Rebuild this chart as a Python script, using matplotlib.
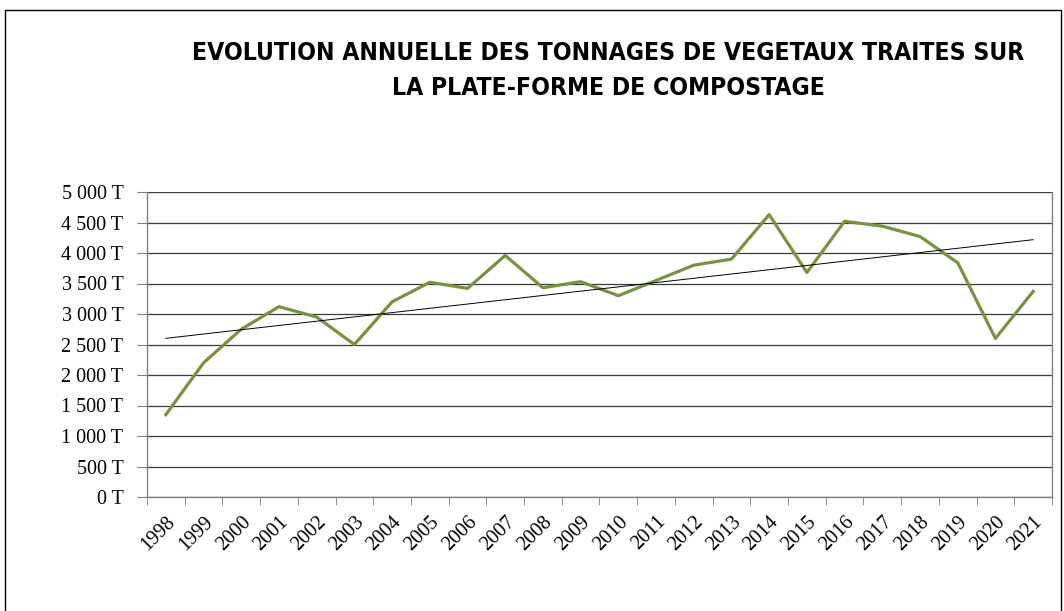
import numpy as np
import matplotlib.pyplot as plt
from matplotlib.patches import Rectangle
from matplotlib import font_manager

# data
years = [str(y) for y in range(1998, 2022)]
tonnes = [1350, 2200, 2750, 3120, 2950, 2500, 3200, 3520, 3420, 3960,
          3430, 3530, 3300, 3550, 3800, 3900, 4630, 3680, 4520, 4440,
          4270, 3840, 2600, 3370]
yticks = list(range(0, 5001, 500))
title1 = "EVOLUTION ANNUELLE DES TONNAGES DE VEGETAUX TRAITES SUR"
title2 = "LA PLATE-FORME DE COMPOSTAGE"

def fmt(v):
    return "{:,}".format(v).replace(",", " ") + " T"

# look for a narrow bold face for the title (Calibri-like), else DejaVu Sans Bold
title_font = None
for f in font_manager.fontManager.ttflist:
    fn = f.fname.lower()
    if ('condensed' in fn or 'narrow' in fn) and 'bold' in fn and 'oblique' not in fn and 'italic' not in fn:
        title_font = font_manager.FontProperties(fname=f.fname)
        break
if title_font is None:
    title_font = font_manager.FontProperties(family='DejaVu Sans', weight='bold')

fig = plt.figure(figsize=(10.64, 6.11), dpi=100)
ax = fig.add_axes([147 / 1064, 1 - 497 / 611, (1052 - 147) / 1064, (497 - 192) / 611])

x = np.arange(len(years))
ax.plot(x, tonnes, color='#77933C', lw=2.3, zorder=3)

# linear trend line
a, b = np.polyfit(x, tonnes, 1)
ax.plot(x, a * x + b, color='black', lw=0.7, zorder=4)

ax.set_xlim(-0.5, len(years) - 0.5)
ax.set_ylim(0, 5000)
ax.set_yticks(yticks)
ax.set_yticklabels([fmt(v) for v in yticks], family='Liberation Serif', fontsize=14.5)
ax.yaxis.grid(True, color='#3a3a3a', lw=0.9)
ax.set_axisbelow(True)

ax.set_xticks(x)
ax.set_xticklabels(years, rotation=45, ha='right', va='top', rotation_mode='anchor',
                   family='Liberation Serif', fontsize=14.5)
ax.tick_params(axis='x', length=0, pad=11)
ax.set_xticks(np.arange(-0.5, len(years)), minor=True)
ax.tick_params(axis='x', which='minor', length=6, color='#808080', direction='out')
ax.tick_params(axis='y', length=7, color='#808080', direction='out', pad=10)

for s in ['left', 'bottom', 'right']:
    ax.spines[s].set_color('#808080')
    ax.spines[s].set_linewidth(1.0)
ax.spines['top'].set_visible(False)

t1 = fig.text(0.5714, 1 - 53 / 611, title1, ha='center', va='center',
              fontproperties=title_font, fontsize=22)
t2 = fig.text(0.5714, 1 - 88 / 611, title2, ha='center', va='center',
              fontproperties=title_font, fontsize=22)
# shrink the title so the first line spans the same width as in the original
fig.canvas.draw()
w = t1.get_window_extent().width
if w > 830:
    size = 22 * 830 / w
    t1.set_fontsize(size)
    t2.set_fontsize(size)

# outer frame of the chart area
fig.patches.append(Rectangle((5 / 1064, -0.05), 1056 / 1064, 1 - 10 / 611 + 0.05,
                             transform=fig.transFigure, fill=False,
                             edgecolor='black', lw=1.0))

fig.savefig("out.png", dpi=100)
